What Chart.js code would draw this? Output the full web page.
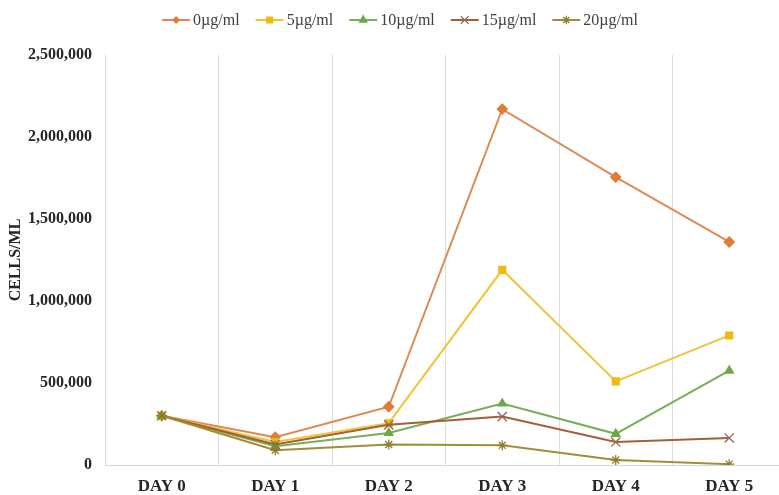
<!DOCTYPE html>
<html>
<head>
<meta charset="utf-8">
<script src="https://cdn.jsdelivr.net/npm/chart.js@4/dist/chart.umd.min.js"></script>
<style>
  html, body { margin: 0; padding: 0; background: #ffffff; overflow: hidden; }
  #wrap { width: 800px; height: 495px; }
</style>
</head>
<body>
<div id="wrap"><canvas id="chart" width="800" height="495"></canvas></div>
<script>
// Cell counts (cells/ml) per day for each drug concentration
const days = ['DAY 0', 'DAY 1', 'DAY 2', 'DAY 3', 'DAY 4', 'DAY 5'];
const seriesNames = ['0\u00b5g/ml', '5\u00b5g/ml', '10\u00b5g/ml', '15\u00b5g/ml', '20\u00b5g/ml'];
const dose0  = [300000, 170000, 355000, 2170000, 1755000, 1360000];
const dose5  = [300000, 140000, 255000, 1190000,  510000,  790000];
const dose10 = [300000, 115000, 195000,  375000,  190000,  575000];
const dose15 = [300000, 125000, 245000,  295000,  140000,  165000];
const dose20 = [300000,  90000, 125000,  120000,   30000,    5000];
const yMin = 0, yMax = 2500000, yStep = 500000;

const SERIF = '"Liberation Serif", "Times New Roman", serif';

// Small marker shapes for the legend swatches
function drawMarker(ctx, style, r, x, y) {
  ctx.beginPath();
  if (style === 'rectRot') {
    const s = r * Math.SQRT1_2;
    ctx.moveTo(x - s, y); ctx.lineTo(x, y - s); ctx.lineTo(x + s, y); ctx.lineTo(x, y + s);
    ctx.closePath(); ctx.fill(); ctx.stroke();
  } else if (style === 'rect') {
    const s = r * Math.SQRT1_2;
    ctx.rect(x - s, y - s, 2 * s, 2 * s); ctx.fill(); ctx.stroke();
  } else if (style === 'triangle') {
    ctx.moveTo(x, y - r); ctx.lineTo(x + r * 0.866, y + r * 0.5); ctx.lineTo(x - r * 0.866, y + r * 0.5);
    ctx.closePath(); ctx.fill(); ctx.stroke();
  } else if (style === 'crossRot') {
    const s = r * Math.SQRT1_2;
    ctx.moveTo(x - s, y - s); ctx.lineTo(x + s, y + s);
    ctx.moveTo(x - s, y + s); ctx.lineTo(x + s, y - s); ctx.stroke();
  } else if (style === 'star') {
    const s = r * Math.SQRT1_2;
    ctx.moveTo(x, y - r); ctx.lineTo(x, y + r);
    ctx.moveTo(x - s, y - s); ctx.lineTo(x + s, y + s);
    ctx.moveTo(x - s, y + s); ctx.lineTo(x + s, y - s); ctx.stroke();
  }
}

// Line + marker swatch and label for each series, in one centred row
const seriesLegend = {
  id: 'seriesLegend',
  afterDraw(chart) {
    const ctx = chart.ctx;
    const lineLen = 28, gapText = 3, gapItem = 16, cy = 20, cx = 400;
    ctx.save();
    ctx.font = '16px ' + SERIF;
    ctx.textBaseline = 'middle';
    ctx.textAlign = 'left';
    const items = chart.data.datasets.map(ds => ({ ds, w: ctx.measureText(ds.label).width }));
    const total = items.reduce((s, it) => s + lineLen + gapText + it.w, 0) + gapItem * (items.length - 1);
    let x = cx - total / 2;
    items.forEach(({ ds, w }) => {
      ctx.strokeStyle = ds.borderColor;
      ctx.lineWidth = 2;
      ctx.beginPath(); ctx.moveTo(x, cy); ctx.lineTo(x + lineLen, cy); ctx.stroke();
      ctx.fillStyle = ds.pointBackgroundColor;
      ctx.strokeStyle = ds.pointBorderColor;
      ctx.lineWidth = ds.pointBorderWidth;
      drawMarker(ctx, ds.pointStyle, ds.pointRadius * 0.85, x + lineLen / 2, cy);
      ctx.fillStyle = '#404040';
      ctx.fillText(ds.label, x + lineLen + gapText, cy + 1);
      x += lineLen + gapText + w + gapItem;
    });
    ctx.restore();
  }
};

function series(label, data, line, point, style, radius, order) {
  return {
    label, data,
    borderColor: line, backgroundColor: line, borderWidth: 2,
    pointStyle: style, pointRadius: radius, pointHoverRadius: radius,
    pointBackgroundColor: point, pointBorderColor: point, pointBorderWidth: 1.3,
    tension: 0, fill: false, order
  };
}

new Chart(document.getElementById('chart'), {
  type: 'line',
  data: {
    labels: days,
    datasets: [
      series(seriesNames[0], dose0,  '#DE8A55', '#E07B39', 'rectRot',  5,   4),
      series(seriesNames[1], dose5,  '#F2C232', '#F0B90B', 'rect',     4.8, 3),
      series(seriesNames[2], dose10, '#77AE57', '#6CA843', 'triangle', 4.8, 2),
      series(seriesNames[3], dose15, '#A45E38', '#8E6A56', 'crossRot', 6.5, 1),
      series(seriesNames[4], dose20, '#A28C38', '#8F7D2A', 'star',     5,   0)
    ]
  },
  options: {
    responsive: false,
    animation: false,
    events: [],
    layout: { padding: { top: 55, right: 14, left: 0, bottom: 0 } },
    plugins: { legend: { display: false }, tooltip: { enabled: false } },
    scales: {
      x: {
        offset: true,
        grid: { display: true, offset: true, color: '#DCDCDC', lineWidth: 1, drawTicks: false },
        border: { display: true, color: '#D6D6D6' },
        ticks: { color: '#262626', padding: 11, font: { family: SERIF, size: 17, weight: 'bold' }, maxRotation: 0 },
        afterFit(scale) { scale.height = 30; }
      },
      y: {
        min: yMin, max: yMax,
        grid: { display: false, drawTicks: false },
        border: { display: false },
        ticks: {
          stepSize: yStep, padding: 13, color: '#262626',
          font: { family: SERIF, size: 16, weight: 'bold' },
          callback: v => v.toLocaleString('en-US')
        },
        title: {
          display: true, text: 'CELLS/ML', color: '#262626',
          font: { family: SERIF, size: 16, weight: 'bold' },
          padding: { top: 6, bottom: 0 }
        },
        afterFit(scale) { scale.width = 105; }
      }
    }
  },
  plugins: [seriesLegend]
});
</script>
</body>
</html>
